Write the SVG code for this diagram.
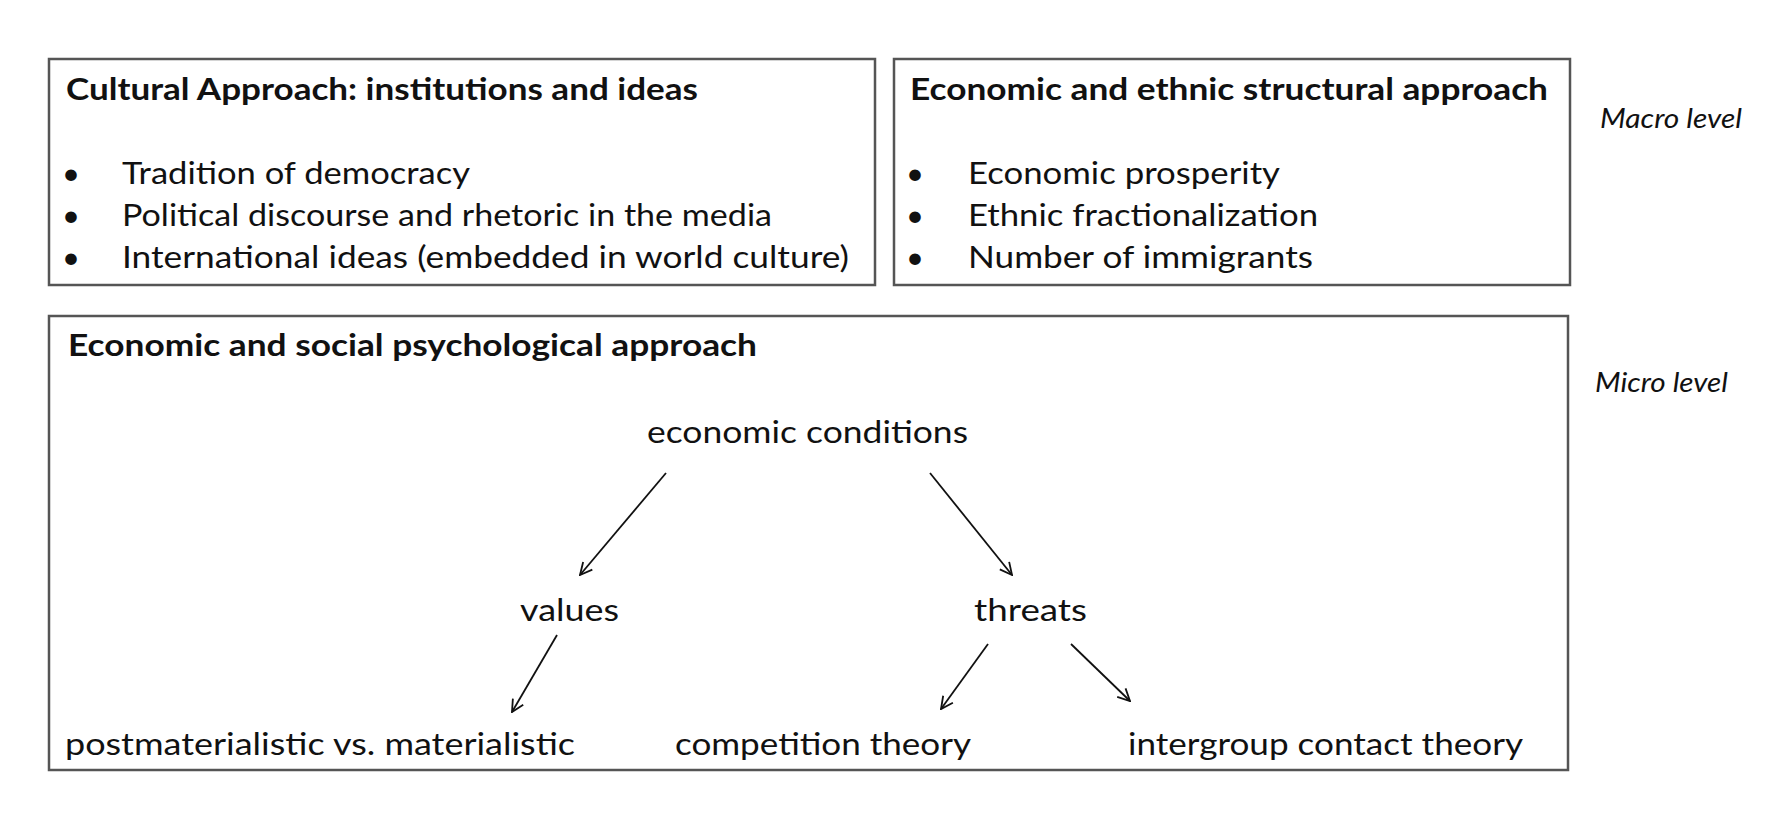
<svg xmlns="http://www.w3.org/2000/svg" width="1772" height="830" viewBox="0 0 1772 830">
<style>
  .box { fill: #ffffff; stroke: #555555; stroke-width: 2.5; }
  .t { font-family: Lato, "Open Sans", "Liberation Sans", sans-serif; font-size: 31px; fill: #111111; }
  .b { font-weight: bold; font-size: 30px; }
  .i { font-style: italic; font-size: 27px; }
  .dot { text-anchor: middle; }
  .arrow { stroke: #111111; stroke-width: 1.8; fill: none; marker-end: url(#chev); }
</style>
<defs>
  <marker id="chev" viewBox="0 0 14 14" refX="13" refY="7" markerWidth="14" markerHeight="14" markerUnits="userSpaceOnUse" orient="auto">
    <path d="M1,1 L13,7 L1,13" fill="none" stroke="#111111" stroke-width="1.8"/>
  </marker>
</defs>
<rect width="1772" height="830" fill="#ffffff"/>

<g id="cultural">
  <rect class="box" x="49" y="59" width="826" height="226"/>
  <text class="t b" x="66" y="100" textLength="632" lengthAdjust="spacingAndGlyphs">Cultural Approach: institutions and ideas</text>
  <text class="t dot" x="71" y="184">•</text>
  <text class="t" x="122" y="184" textLength="348" lengthAdjust="spacingAndGlyphs">Tradition of democracy</text>
  <text class="t dot" x="71" y="226">•</text>
  <text class="t" x="122" y="226" textLength="650" lengthAdjust="spacingAndGlyphs">Political discourse and rhetoric in the media</text>
  <text class="t dot" x="71" y="268">•</text>
  <text class="t" x="122" y="268" textLength="727" lengthAdjust="spacingAndGlyphs">International ideas (embedded in world culture)</text>
</g>

<g id="structural">
  <rect class="box" x="894" y="59" width="676" height="226"/>
  <text class="t b" x="910" y="100" textLength="638" lengthAdjust="spacingAndGlyphs">Economic and ethnic structural approach</text>
  <text class="t dot" x="915" y="184">•</text>
  <text class="t" x="968" y="184" textLength="312" lengthAdjust="spacingAndGlyphs">Economic prosperity</text>
  <text class="t dot" x="915" y="226">•</text>
  <text class="t" x="968" y="226" textLength="350" lengthAdjust="spacingAndGlyphs">Ethnic fractionalization</text>
  <text class="t dot" x="915" y="268">•</text>
  <text class="t" x="968" y="268" textLength="345" lengthAdjust="spacingAndGlyphs">Number of immigrants</text>
</g>

<g id="macro-label">
  <text class="t i" x="1600" y="128" textLength="142" lengthAdjust="spacingAndGlyphs">Macro level</text>
</g>

<g id="psych">
  <rect class="box" x="49" y="316" width="1519" height="454"/>
  <text class="t b" x="68" y="356" textLength="689" lengthAdjust="spacingAndGlyphs">Economic and social psychological approach</text>
</g>

<g id="micro-label">
  <text class="t i" x="1595" y="392" textLength="133" lengthAdjust="spacingAndGlyphs">Micro level</text>
</g>

<g id="econ-cond">
  <text class="t" x="647" y="443" textLength="321" lengthAdjust="spacingAndGlyphs">economic conditions</text>
</g>
<g id="values">
  <text class="t" x="520" y="621" textLength="99" lengthAdjust="spacingAndGlyphs">values</text>
</g>
<g id="threats">
  <text class="t" x="974" y="621" textLength="113" lengthAdjust="spacingAndGlyphs">threats</text>
</g>
<g id="postmat">
  <text class="t" x="65" y="755" textLength="510" lengthAdjust="spacingAndGlyphs">postmaterialistic vs. materialistic</text>
</g>
<g id="competition">
  <text class="t" x="675" y="755" textLength="296" lengthAdjust="spacingAndGlyphs">competition theory</text>
</g>
<g id="contact">
  <text class="t" x="1128" y="755" textLength="395" lengthAdjust="spacingAndGlyphs">intergroup contact theory</text>
</g>

<g id="connectors">
  <line class="arrow" x1="666" y1="473" x2="580" y2="575"/>
  <line class="arrow" x1="930" y1="473" x2="1012" y2="575"/>
  <line class="arrow" x1="557" y1="635" x2="512" y2="712"/>
  <line class="arrow" x1="988" y1="644" x2="941" y2="709"/>
  <line class="arrow" x1="1071" y1="644" x2="1130" y2="701"/>
</g>
</svg>
